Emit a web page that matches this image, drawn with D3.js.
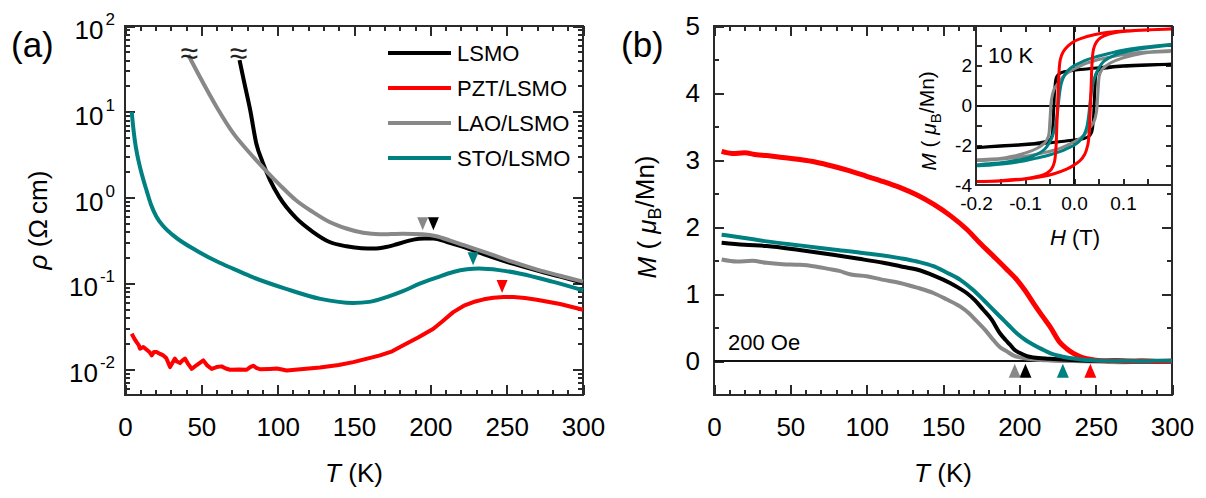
<!DOCTYPE html>
<html>
<head>
<meta charset="UTF-8">
<title>LSMO resistivity and magnetization</title>
<style>
body, html {
	margin: 0;
	padding: 0;
	background: #ffffff;
	overflow: hidden;
}
svg text {
	font-family: 'Liberation Sans', Arial, sans-serif;
}
.tick line, .frame, .zero {
	shape-rendering: crispEdges;
}
</style>
</head>
<body>
<svg id="chart" width="1206" height="498"></svg>
<script src="https://cdn.jsdelivr.net/npm/d3@7"></script>
<script>
// series: LSMO, PZT/LSMO, LAO/LSMO, STO/LSMO
var SERIES = ["LSMO", "PZT/LSMO", "LAO/LSMO", "STO/LSMO"];
var COLORS = ["#000000", "#ff0000", "#888888", "#008080"];

// (a) resistivity, Ohm cm vs T
var T_LSMO_A = [75, 78, 82, 86, 90, 95, 101, 112, 123, 134, 145, 155, 163, 171, 178, 189, 196, 202, 211, 220, 228, 240, 254, 270, 285, 300];
var RHO_LSMO = [40.1, 22.4, 10.5, 4.28, 2.63, 1.60, 1.02, 0.58, 0.40, 0.304, 0.271, 0.257, 0.255, 0.266, 0.286, 0.324, 0.333, 0.334, 0.304, 0.272, 0.243, 0.204, 0.170, 0.141, 0.120, 0.102];

var T_LAO_A = [41.5, 49, 60, 71, 82, 93, 101.5, 112, 123, 134, 145, 156, 167, 182, 195, 204, 213, 222, 238, 254, 270, 285, 300];
var RHO_LAO = [45.9, 25.6, 11.4, 5.60, 3.27, 2.00, 1.40, 0.933, 0.681, 0.520, 0.437, 0.389, 0.374, 0.380, 0.374, 0.355, 0.316, 0.279, 0.224, 0.178, 0.145, 0.123, 0.105];

var T_STO_A = [4.4, 5.2, 6.4, 8, 9.8, 12, 14.2, 17, 20.7, 25, 31.6, 47, 62, 71, 84, 105, 128, 149.5, 160, 171.4, 182, 193, 204, 215, 224, 232, 245, 259, 280, 300];
var RHO_STO = [10, 7.08, 4.68, 3.16, 2.28, 1.62, 1.20, 0.832, 0.596, 0.468, 0.363, 0.240, 0.174, 0.148, 0.1175, 0.0871, 0.0661, 0.0592, 0.0610, 0.0693, 0.0813, 0.0993, 0.117, 0.136, 0.146, 0.149, 0.143, 0.130, 0.105, 0.0832];

var T_PZT_A = [4.4, 6, 7.6, 9, 9.8, 12, 14.2, 16, 17.5, 19, 20.7, 23, 25.1, 27, 29.5, 31, 32.7, 34, 36, 37.5, 39.3, 41, 43.7, 47, 51.3, 54, 56.8, 60, 63.3, 66, 68.8, 75, 79.7, 82, 84, 86, 88.4, 95, 99.4, 102, 105.9, 115, 127.7, 140, 149.5, 160, 167, 175, 182.3, 192, 202, 208, 215, 222, 228.2, 235, 241.3, 248, 254.4, 262, 269.7, 285, 300];
var RHO_PZT = [0.0259, 0.0229, 0.0207, 0.0191, 0.0174, 0.0182, 0.0169, 0.0159, 0.0145, 0.0159, 0.0159, 0.0151, 0.0145, 0.0135, 0.0106, 0.0118, 0.0133, 0.0123, 0.0118, 0.0126, 0.0133, 0.0118, 0.0101, 0.0112, 0.0127, 0.0110, 0.0101, 0.0106, 0.0108, 0.0102, 0.00986, 0.00991, 0.00986, 0.0106, 0.0110, 0.0104, 0.0100, 0.0101, 0.0102, 0.0100, 0.00968, 0.0100, 0.0105, 0.0112, 0.0121, 0.0135, 0.0145, 0.0162, 0.0190, 0.0234, 0.0297, 0.0363, 0.0463, 0.0550, 0.0607, 0.0653, 0.0682, 0.0695, 0.0693, 0.0676, 0.0647, 0.0575, 0.0494];

// (a) transition markers
var TC_A_T = [202, 247, 195, 228];
var TC_A_RHO = [0.417, 0.0773, 0.417, 0.1626];

// (b) magnetization at 200 Oe, muB/Mn vs T
var T_LSMO_B = [5, 20, 34.5, 56, 78, 95, 110.9, 122, 132.8, 144, 154.6, 160, 165.5, 171, 176.4, 182, 187.3, 191, 193.9, 197, 200.4, 205, 209.2, 220, 231, 245, 260, 280, 300];
var M_LSMO = [1.77, 1.74, 1.72, 1.66, 1.59, 1.53, 1.47, 1.42, 1.37, 1.28, 1.17, 1.10, 1.02, 0.91, 0.77, 0.62, 0.42, 0.32, 0.25, 0.17, 0.125, 0.08, 0.06, 0.04, 0.025, 0.012, 0.005, 0.0, 0.0];

var T_PZT_B = [5, 12, 20, 28, 34.5, 45, 56.3, 67, 78, 89, 100, 111, 122, 133, 144, 155, 165.5, 174, 183, 191, 198.3, 204, 209.2, 215, 220.1, 226.7, 231, 235.4, 240, 244, 250, 258, 264, 272, 280, 290, 300];
var M_PZT = [3.13, 3.10, 3.11, 3.08, 3.07, 3.04, 3.01, 2.97, 2.91, 2.84, 2.76, 2.68, 2.59, 2.48, 2.34, 2.17, 1.97, 1.77, 1.57, 1.39, 1.22, 1.05, 0.87, 0.68, 0.52, 0.28, 0.19, 0.12, 0.07, 0.04, 0.02, 0.01, 0.015, 0.005, 0.01, 0.0, 0.005];

var T_LAO_B = [5, 15, 25, 34.5, 45, 56.3, 65, 75, 82, 89, 100, 110, 121.8, 133, 143.7, 152, 161.1, 167, 172.1, 178, 183, 187, 191.8, 196, 200.4, 210, 220.1, 235, 250, 265, 280, 300];
var M_LAO = [1.52, 1.49, 1.50, 1.47, 1.45, 1.44, 1.42, 1.38, 1.35, 1.30, 1.27, 1.22, 1.17, 1.10, 1.02, 0.93, 0.82, 0.72, 0.60, 0.46, 0.32, 0.22, 0.15, 0.09, 0.06, 0.03, 0.015, 0.005, 0.0, -0.01, -0.005, 0.0];

var T_STO_B = [5, 20, 34.5, 56, 78, 100, 121.8, 133, 143.7, 152, 161.1, 169, 176.4, 182, 187.3, 193, 198.3, 204, 209.2, 215, 220.1, 226, 231, 237, 242, 250, 260, 270, 280, 290, 300];
var M_STO = [1.89, 1.84, 1.79, 1.73, 1.67, 1.61, 1.54, 1.49, 1.42, 1.33, 1.22, 1.08, 0.92, 0.79, 0.67, 0.54, 0.42, 0.32, 0.25, 0.18, 0.125, 0.085, 0.06, 0.04, 0.025, 0.015, 0.01, 0.01, 0.005, 0.01, 0.01];

// (b) transition markers
var TC_B_T = [204, 246.5, 197, 228.5];
var TC_B_M = [-0.035, -0.035, -0.035, -0.035];

// inset: M-H loops at 10 K (descending branch then ascending branch)
var H_LSMO = [0.2, 0.15, 0.1, 0.06, 0.03, 0, -0.02, -0.03, -0.036, -0.039, -0.041, -0.043, -0.045, -0.05, -0.07, -0.1, -0.15, -0.2,
	-0.2, -0.15, -0.1, -0.06, -0.03, 0, 0.02, 0.03, 0.036, 0.039, 0.041, 0.043, 0.045, 0.05, 0.07, 0.1, 0.15, 0.2];
var MH_LSMO = [2.08, 2.05, 2.0, 1.93, 1.85, 1.77, 1.7, 1.6, 1.4, 0.9, 0.0, -1.0, -1.55, -1.75, -1.87, -1.95, -2.03, -2.12,
	-2.12, -2.05, -1.98, -1.9, -1.82, -1.74, -1.66, -1.55, -1.35, -0.9, 0.0, 1.0, 1.55, 1.78, 1.9, 1.97, 2.03, 2.08];

var H_LAO = [0.2, 0.141, 0.1, 0.073, 0.045, 0.026, 0.008, -0.008, -0.02, -0.029, -0.036, -0.041, -0.046, -0.049, -0.052, -0.057, -0.063, -0.075, -0.097, -0.125, -0.151, -0.2,
	-0.2, -0.141, -0.1, -0.073, -0.045, -0.026, -0.008, 0.008, 0.02, 0.029, 0.036, 0.041, 0.046, 0.049, 0.052, 0.057, 0.063, 0.075, 0.097, 0.125, 0.151, 0.2];
var MH_LAO = [2.77, 2.68, 2.57, 2.43, 2.28, 2.13, 1.93, 1.72, 1.5, 1.22, 1.0, 0.8, 0.3, -0.7, -1.53, -1.8, -1.95, -2.15, -2.37, -2.55, -2.67, -2.75,
	-2.77, -2.68, -2.57, -2.43, -2.28, -2.13, -1.93, -1.72, -1.5, -1.22, -1.0, -0.8, -0.3, 0.7, 1.53, 1.8, 1.95, 2.15, 2.37, 2.55, 2.67, 2.72];

var H_STO = [0.2, 0.141, 0.1, 0.073, 0.045, 0.026, 0.01, 0, -0.01, -0.02, -0.026, -0.03, -0.033, -0.037, -0.045, -0.06, -0.09, -0.14, -0.2,
	-0.2, -0.141, -0.1, -0.073, -0.045, -0.026, -0.01, 0, 0.01, 0.02, 0.026, 0.03, 0.033, 0.037, 0.045, 0.06, 0.09, 0.14, 0.2];
var MH_STO = [3.08, 2.93, 2.78, 2.63, 2.45, 2.3, 2.12, 2.0, 1.82, 1.5, 1.1, 0.5, -0.2, -0.9, -1.6, -2.2, -2.6, -2.85, -3.0,
	-3.02, -2.93, -2.78, -2.63, -2.45, -2.3, -2.12, -2.0, -1.82, -1.5, -1.1, -0.5, 0.2, 0.9, 1.6, 2.2, 2.6, 2.87, 3.05];

var H_PZT = [0.2, 0.15, 0.107, 0.07, 0.039, 0.015, 0, -0.012, -0.022, -0.028, -0.031, -0.033, -0.035, -0.037, -0.04, -0.046, -0.055, -0.07, -0.1, -0.15, -0.2,
	-0.2, -0.15, -0.107, -0.07, -0.039, -0.015, 0, 0.012, 0.022, 0.028, 0.031, 0.033, 0.035, 0.037, 0.04, 0.046, 0.055, 0.07, 0.1, 0.15, 0.2];
var MH_PZT = [3.85, 3.81, 3.76, 3.68, 3.55, 3.38, 3.22, 3.0, 2.7, 2.3, 1.5, 0.3, -1.0, -2.2, -2.85, -3.2, -3.4, -3.55, -3.68, -3.78, -3.83,
	-3.83, -3.8, -3.72, -3.6, -3.42, -3.2, -3.0, -2.78, -2.45, -2.0, -1.4, -0.3, 1.0, 2.2, 2.85, 3.2, 3.42, 3.58, 3.72, 3.8, 3.85];

// ticks
var T_MAJOR = [0, 50, 100, 150, 200, 250, 300];
var T_MINOR = d3.range(0, 301, 10);
var RHO_MAJOR = [0.01, 0.1, 1, 10, 100];
var M_MAJOR = [0, 1, 2, 3, 4, 5];
var M_MINOR = [0.5, 1.5, 2.5, 3.5, 4.5];
var H_TICKS = [-0.15, -0.1, -0.05, 0, 0.05, 0.1, 0.15];
var H_LABELS = [-0.2, -0.1, 0, 0.1];
var MI_TICKS = [-3, -2, -1, 0, 1, 2, 3];
var MI_LABELS = [-4, -2, 0, 2];

var svg = d3.select("#chart");
var FONT = "'Liberation Sans', Arial, sans-serif";
var INK = "#2a2a2a";

var xA = d3.scaleLinear().domain([0, 300]).range([125, 583]);
var yA = d3.scaleLog().domain([Math.pow(10, -2.3), 100]).range([395, 26]);
var xB = d3.scaleLinear().domain([0, 300]).range([714, 1172]);
var yB = d3.scaleLinear().domain([-0.5, 5]).range([395, 26]);
var xI = d3.scaleLinear().domain([-0.2, 0.2]).range([976, 1172]);
var yI = d3.scaleLinear().domain([-4, 4]).range([185, 26]);

var RHO_MINOR = [];
for (var e = -3; e <= 1; e++) {
	for (var k = 2; k <= 9; k++) {
		var v = k * Math.pow(10, e);
		if (v > yA.domain()[0] && v < 100) RHO_MINOR.push(v);
	}
}

function dash(d) {
	return (d < 0 ? "-" : "") + Math.abs(d);
}

// one row of ticks (and labels if fmt is given), drawn through a d3 axis
function axis(gen, transform, values, size, fmt, pad, fs) {
	var g = svg.append("g").attr("transform", transform)
		.call(gen.tickValues(values).tickSizeInner(-size).tickSizeOuter(0)
			.tickPadding(pad || 0).tickFormat(fmt || function() {return ""}));
	g.select(".domain").remove();
	g.attr("font-family", FONT).attr("font-size", fs || 26).attr("color", "#000");
	g.selectAll(".tick line").attr("stroke", INK).attr("stroke-width", 2);
	return g;
}

function frame(x, y, fill) {
	svg.append("rect").attr("class", "frame")
		.attr("x", x.range()[0]).attr("y", y.range()[1])
		.attr("width", x.range()[1] - x.range()[0]).attr("height", y.range()[0] - y.range()[1])
		.attr("fill", fill || "none").attr("stroke", INK).attr("stroke-width", 2);
}

function boxTicks(x, y, xMaj, xMin, yMaj, yMin, big, small) {
	var b = y.range()[0], t = y.range()[1], l = x.range()[0], r = x.range()[1];
	axis(d3.axisBottom(x), "translate(0," + b + ")", xMin, small);
	axis(d3.axisBottom(x), "translate(0," + b + ")", xMaj, big);
	axis(d3.axisTop(x), "translate(0," + t + ")", xMin, small);
	axis(d3.axisTop(x), "translate(0," + t + ")", xMaj, big);
	axis(d3.axisLeft(y), "translate(" + l + ",0)", yMin, small);
	axis(d3.axisLeft(y), "translate(" + l + ",0)", yMaj, big);
	axis(d3.axisRight(y), "translate(" + r + ",0)", yMin, small);
	axis(d3.axisRight(y), "translate(" + r + ",0)", yMaj, big);
}

function drawLine(x, y, xs, ys, color, width, curve) {
	var line = d3.line().x(function(d) {return x(d[0])}).y(function(d) {return y(d[1])}).curve(curve || d3.curveMonotoneX);
	return svg.append("path").datum(d3.zip(xs, ys)).attr("d", line)
		.attr("fill", "none").attr("stroke", color).attr("stroke-width", width)
		.attr("stroke-linejoin", "round").attr("stroke-linecap", "butt");
}

function tLabel(cx) {
	svg.append("text").attr("x", cx).attr("y", 482).attr("text-anchor", "middle").attr("font-size", 26)
		.call(function(t) {
			t.append("tspan").attr("font-style", "italic").text("T");
			t.append("tspan").text(" (K)");
		});
}

function mLabel(t, sub) {
	t.append("tspan").attr("font-style", "italic").text("M");
	t.append("tspan").text(" ( ");
	t.append("tspan").attr("font-style", "italic").text("\u03bc");
	t.append("tspan").attr("font-size", sub).attr("dy", "0.3em").text("B");
	t.append("tspan").attr("dy", "-0.3em").text("/Mn)");
}

// ---------- panel (a) ----------
frame(xA, yA);
boxTicks(xA, yA, T_MAJOR, T_MINOR, RHO_MAJOR, RHO_MINOR, 10, 5);

axis(d3.axisBottom(xA), "translate(0,395)", T_MAJOR, 0, function(d) {return d}, 23, 26);

var la = axis(d3.axisLeft(yA), "translate(125,0)", RHO_MAJOR, 0, function() {return ""}, 10, 26);
la.selectAll(".tick text").attr("dy", "0.48em").each(function(d) {
	var t = d3.select(this);
	t.append("tspan").text("10");
	t.append("tspan").attr("dx", 2).attr("dy", -14).attr("font-size", 17).text(dash(Math.round(Math.log10(d))));
});

drawLine(xA, yA, T_LSMO_A, RHO_LSMO, COLORS[0], 4);
drawLine(xA, yA, T_LAO_A, RHO_LAO, COLORS[2], 4);
drawLine(xA, yA, T_STO_A, RHO_STO, COLORS[3], 4);
drawLine(xA, yA, T_PZT_A, RHO_PZT, COLORS[1], 4, d3.curveLinear);

// break marks on top of the two insulating curves
[[T_LAO_A[0], RHO_LAO[0]], [T_LSMO_A[0], RHO_LSMO[0]]].forEach(function(p, i) {
	svg.append("text").attr("x", xA(p[0]) + (i ? -1 : 1)).attr("y", 64)
		.attr("text-anchor", "middle").attr("font-size", 32).attr("fill", "#222").text("\u2248");
});

TC_A_T.forEach(function(t, i) {
	svg.append("path").attr("d", "M0,0L-5.5,-13L5.5,-13Z")
		.attr("transform", "translate(" + xA(t) + "," + yA(TC_A_RHO[i]) + ")")
		.attr("fill", COLORS[i]);
});

var leg = svg.append("g").attr("transform", "translate(388,53)");
SERIES.forEach(function(s, i) {
	leg.append("line").attr("x1", 0).attr("x2", 63).attr("y1", i * 35).attr("y2", i * 35)
		.attr("stroke", COLORS[i]).attr("stroke-width", 4);
	leg.append("text").attr("x", 69).attr("y", i * 35).attr("dy", "0.36em")
		.attr("font-size", 22).text(s);
});

svg.append("text").attr("x", 11).attr("y", 57).attr("font-size", 35).text("(a)");
tLabel(354);

svg.append("text").attr("transform", "translate(47,220) rotate(-90)").attr("text-anchor", "middle").attr("font-size", 26)
	.call(function(t) {
		t.append("tspan").attr("font-style", "italic").text("\u03c1");
		t.append("tspan").text(" (\u03a9\u2009cm)");
	});

// ---------- panel (b) ----------
frame(xB, yB);
boxTicks(xB, yB, T_MAJOR, T_MINOR, M_MAJOR, M_MINOR, 10, 5);
axis(d3.axisBottom(xB), "translate(0,395)", T_MAJOR, 0, function(d) {return d}, 23, 26);
axis(d3.axisLeft(yB), "translate(714,0)", M_MAJOR, 0, function(d) {return d}, 14, 26);

svg.append("line").attr("class", "zero").attr("x1", xB(0)).attr("x2", xB(300)).attr("y1", yB(0)).attr("y2", yB(0))
	.attr("stroke", "#111").attr("stroke-width", 2);

drawLine(xB, yB, T_LAO_B, M_LAO, COLORS[2], 4);
drawLine(xB, yB, T_LSMO_B, M_LSMO, COLORS[0], 4);
drawLine(xB, yB, T_PZT_B, M_PZT, COLORS[1], 5);
drawLine(xB, yB, T_STO_B, M_STO, COLORS[3], 4);

TC_B_T.forEach(function(t, i) {
	svg.append("path").attr("d", "M0,0L-6,14L6,14Z")
		.attr("transform", "translate(" + xB(t) + "," + yB(TC_B_M[i]) + ")")
		.attr("fill", COLORS[i]);
});

svg.append("text").attr("x", 728).attr("y", 350).attr("font-size", 22).text("200 Oe");
svg.append("text").attr("x", 621).attr("y", 57).attr("font-size", 35).text("(b)");
tLabel(943);

svg.append("text").attr("transform", "translate(656,217) rotate(-90)").attr("text-anchor", "middle").attr("font-size", 26)
	.call(function(t) {mLabel(t, 18)});

// ---------- inset ----------
frame(xI, yI, "#ffffff");
svg.append("clipPath").attr("id", "inset-clip").append("rect")
	.attr("x", 976).attr("y", 26).attr("width", 196).attr("height", 159);

boxTicks(xI, yI, H_TICKS, [], MI_TICKS, [], 6, 0);
axis(d3.axisBottom(xI), "translate(0,185)", H_LABELS, 0, function(d) {return d == 0 ? "0.0" : dash(d.toFixed(1))}, 12, 19);
axis(d3.axisLeft(yI), "translate(976,0)", MI_LABELS, 0, dash, 4, 19);

svg.append("line").attr("class", "zero").attr("x1", xI(0)).attr("x2", xI(0)).attr("y1", 26).attr("y2", 185).attr("stroke", "#111").attr("stroke-width", 2);
svg.append("line").attr("class", "zero").attr("x1", 976).attr("x2", 1172).attr("y1", yI(0)).attr("y2", yI(0)).attr("stroke", "#111").attr("stroke-width", 2);

var loops = [[H_LSMO, MH_LSMO, 0], [H_LAO, MH_LAO, 2], [H_STO, MH_STO, 3], [H_PZT, MH_PZT, 1]];
loops.forEach(function(lp) {
	drawLine(xI, yI, lp[0], lp[1], COLORS[lp[2]], 3, d3.curveCatmullRom.alpha(0.5))
		.attr("clip-path", "url(#inset-clip)");
});

frame(xI, yI);

svg.append("text").attr("x", 988).attr("y", 63).attr("font-size", 22).text("10 K");

svg.append("text").attr("x", 1075).attr("y", 245).attr("text-anchor", "middle").attr("font-size", 22)
	.call(function(t) {
		t.append("tspan").attr("font-style", "italic").text("H");
		t.append("tspan").text(" (T)");
	});

svg.append("text").attr("transform", "translate(936,121) rotate(-90)").attr("text-anchor", "middle").attr("font-size", 21)
	.call(function(t) {mLabel(t, 15)});
</script>
</body>
</html>
